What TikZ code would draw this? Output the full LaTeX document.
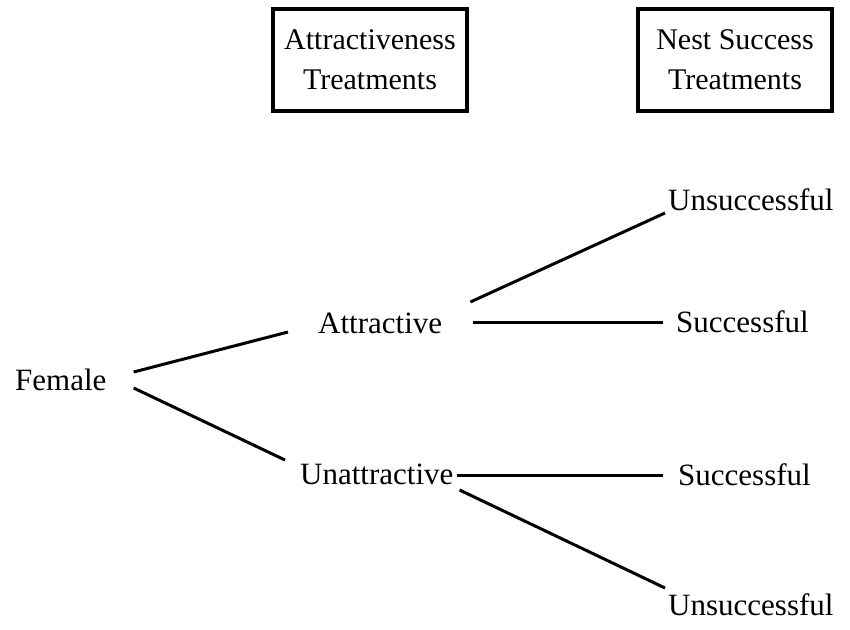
\documentclass[tikz,border=0pt]{standalone}
\usepackage{fontspec}
\setmainfont{Liberation Serif}
\begin{document}
\begin{tikzpicture}[x=1pt,y=-1pt,
  lbl/.style={inner sep=0pt,anchor=west,font=\fontsize{31}{36}\selectfont},
  hdr/.style={draw,line width=4pt,minimum width=194pt,minimum height=102pt,align=center,inner sep=0pt,font=\fontsize{30}{40}\selectfont},
  conn/.style={line width=3pt}]
\useasboundingbox (0,0) rectangle (850,629);
\node[hdr] (h1) at (370,60) {Attractiveness\\Treatments};
\node[hdr] (h2) at (735,60) {Nest Success\\Treatments};
\node[lbl] (female) at (15,380) {Female};
\node[lbl] (attr) at (318,323) {Attractive};
\node[lbl] (unattr) at (300,474) {Unattractive};
\node[lbl] (u1) at (668,200) {Unsuccessful};
\node[lbl] (s1) at (676,322) {Successful};
\node[lbl] (s2) at (678,475) {Successful};
\node[lbl] (u2) at (668,605) {Unsuccessful};
\draw[conn] ([shift={(27,-8)}]female.east) -- ([shift={(-30,9)}]attr.west);
\draw[conn] ([shift={(27,8)}]female.east) -- ([shift={(-15,-14)}]unattr.west);
\draw[conn] ([shift={(28,-21)}]attr.east) -- ([shift={(-3,13)}]u1.west);
\draw[conn] ([shift={(31,-1)}]attr.east) -- ([shift={(-13,0)}]s1.west);
\draw[conn] ([shift={(3,1)}]unattr.east) -- ([shift={(-15,0)}]s2.west);
\draw[conn] ([shift={(6,16)}]unattr.east) -- ([shift={(-3,-17)}]u2.west);
\end{tikzpicture}
\end{document}
